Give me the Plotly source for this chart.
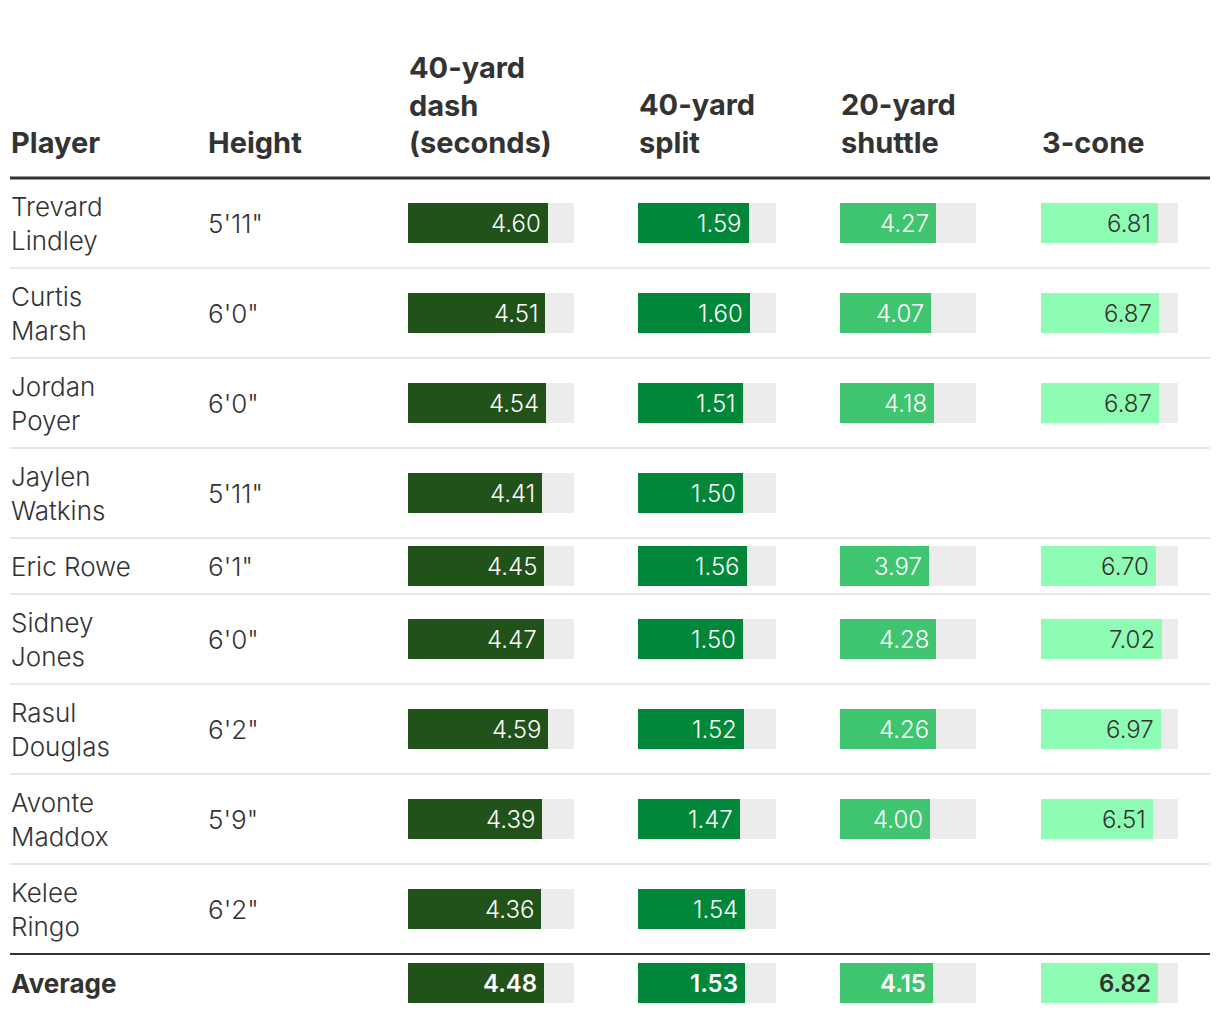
import plotly.graph_objects as go

# ---------------- data ----------------
players = ["Trevard Lindley", "Curtis Marsh", "Jordan Poyer", "Jaylen Watkins", "Eric Rowe",
           "Sidney Jones", "Rasul Douglas", "Avonte Maddox", "Kelee Ringo"]
heights = ['5\'11"', '6\'0"', '6\'0"', '5\'11"', '6\'1"', '6\'0"', '6\'2"', '5\'9"', '6\'2"']
dash_40 = [4.60, 4.51, 4.54, 4.41, 4.45, 4.47, 4.59, 4.39, 4.36]
split_40 = [1.59, 1.60, 1.51, 1.50, 1.56, 1.50, 1.52, 1.47, 1.54]
shuttle_20 = [4.27, 4.07, 4.18, None, 3.97, 4.28, 4.26, 4.00, None]
three_cone = [6.81, 6.87, 6.87, None, 6.70, 7.02, 6.97, 6.51, None]
averages = [4.48, 1.53, 4.15, 6.82]
column_titles = ["Player", "Height", "40-yard<br>dash<br>(seconds)", "40-yard<br>split",
                 "20-yard<br>shuttle", "3-cone"]
scale_max = [5.45, 1.98, 6.05, 7.97]

# ---------------- layout / style ----------------
W, H = 1220, 1020
OFF = 8                                          # page body margin
FONT = "Inter"
TXT = "#333333"
bar_colors = ["#215219", "#00873a", "#3fc470", "#8ffcb3"]
label_colors = ["#ffffff", "#ffffff", "#ffffff", "#333333"]
track_color = "#ececec"
col_x = [p - OFF for p in [10, 207, 408, 638, 840, 1041]]   # left edges of columns (px)
track_w = [166, 138, 136, 137]                  # track widths (px)
rule_x0, rule_x1 = 10 - OFF, 1210 - OFF
header_line_y = 178 - OFF
bar_h = 40

series = [dash_40, split_40, shuttle_20, three_cone]


def wrap(name):
    return name.replace(" ", "<br>") if len(name) > 10 else name


row_h = [90 if len(p) > 10 else 56 for p in players]
centers, bounds = [], []
y = header_line_y
for h in row_h:
    centers.append(y + h / 2)
    y += h
    bounds.append(y)
avg_center = bounds[-1] + 29

fig = go.Figure()
layout_axes = {}
annotations = []
shapes = []

for k in range(4):
    ax = "x" if k == 0 else f"x{k + 1}"
    axname = "xaxis" if k == 0 else f"xaxis{k + 1}"
    vals = series[k] + [averages[k]]
    ys = centers + [avg_center]
    ys_ok = [yy for yy, v in zip(ys, vals) if v is not None]
    v_ok = [v for v in vals if v is not None]
    # background track
    fig.add_trace(go.Bar(x=[scale_max[k]] * len(ys_ok), y=ys_ok, orientation="h", width=bar_h,
                         marker=dict(color=track_color, line=dict(width=0)),
                         xaxis=ax, yaxis="y", hoverinfo="skip", showlegend=False))
    # value bar
    fig.add_trace(go.Bar(x=v_ok, y=ys_ok, orientation="h", width=bar_h,
                         marker=dict(color=bar_colors[k], line=dict(width=0)),
                         xaxis=ax, yaxis="y", showlegend=False))
    left = col_x[k + 2] / W
    right = (col_x[k + 2] + track_w[k]) / W
    layout_axes[axname] = dict(domain=[left, right], range=[0, scale_max[k]], visible=False,
                               anchor="y", fixedrange=True)
    for i, (yy, v) in enumerate(zip(ys, vals)):
        if v is None:
            continue
        is_avg = i == len(vals) - 1
        txt = f"{v:.2f}"
        annotations.append(dict(x=v, y=yy, xref=ax, yref="y", text=txt,
                                showarrow=False, xanchor="right", yanchor="middle", xshift=-6,
                                borderpad=0,
                                font=dict(family=FONT, size=24, color=label_colors[k],
                                          weight=600 if is_avg else 300)))

# headers
for i, t in enumerate(column_titles):
    annotations.append(dict(x=col_x[i] / W, y=161 - OFF, xref="paper", yref="y", text=t,
                            showarrow=False, xanchor="left", yanchor="bottom", align="left",
                            borderpad=0,
                            font=dict(family=FONT, size=29, color=TXT, weight=700)))

# player names + heights
for p, h, c in zip(players, heights, centers):
    annotations.append(dict(x=col_x[0] / W, y=c, xref="paper", yref="y", text=wrap(p), showarrow=False,
                            xanchor="left", yanchor="middle", align="left", borderpad=0,
                            font=dict(family=FONT, size=26, color=TXT, weight=300)))
    annotations.append(dict(x=col_x[1] / W, y=c, xref="paper", yref="y", text=h, showarrow=False,
                            xanchor="left", yanchor="middle", align="left", borderpad=0,
                            font=dict(family=FONT, size=26, color=TXT, weight=300)))
annotations.append(dict(x=col_x[0] / W, y=avg_center, xref="paper", yref="y", text="Average",
                        showarrow=False, xanchor="left", yanchor="middle", borderpad=0,
                        font=dict(family=FONT, size=26, color=TXT, weight=700)))

# rules
shapes.append(dict(type="line", xref="paper", yref="y", x0=rule_x0 / W, x1=rule_x1 / W,
                   y0=header_line_y, y1=header_line_y, line=dict(color="#333333", width=3)))
for b in bounds[:-1]:
    shapes.append(dict(type="line", xref="paper", yref="y", x0=rule_x0 / W, x1=rule_x1 / W,
                       y0=b, y1=b, line=dict(color="#e8e8e8", width=2), layer="below"))
shapes.append(dict(type="line", xref="paper", yref="y", x0=rule_x0 / W, x1=rule_x1 / W,
                   y0=bounds[-1], y1=bounds[-1], line=dict(color="#333333", width=2)))

fig.update_layout(
    width=W, height=H, margin=dict(l=0, r=0, t=0, b=0),
    paper_bgcolor="white", plot_bgcolor="white",
    barmode="overlay", bargap=0,
    yaxis=dict(range=[H, 0], domain=[0, 1], visible=False, fixedrange=True),
    annotations=annotations, shapes=shapes,
    **layout_axes,
)

fig.write_html("out.html")
